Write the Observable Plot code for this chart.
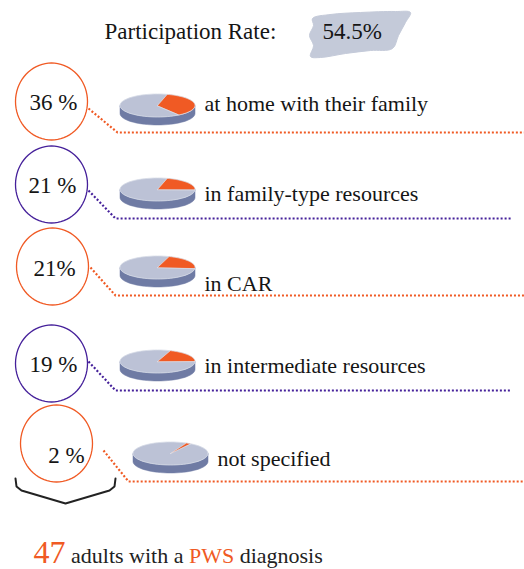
<!DOCTYPE html>
<html><head><meta charset="utf-8">
<script src="https://cdn.jsdelivr.net/npm/d3@7"></script>
<script src="https://cdn.jsdelivr.net/npm/@observablehq/plot@0.6"></script>
</head><body style="margin:0;background:#fff"><div id="chart"></div>
<script>
// ---- data ----
const participationLabel = "Participation Rate:";
const participationRate = "54.5%";
const percents = [36, 21, 21, 19, 2];
const percentLabels = ["36 %", "21 %", "21%", "19 %", "2 %"];
const places = ["at home with their family", "in family-type resources", "in CAR", "in intermediate resources", "not specified"];
const adultsCount = "47";
const footerParts = [" adults with a ", "PWS", " diagnosis"];

// ---- layout & style (not data) ----
const W = 524, H = 569;
const ORANGE = "#f05a24", PURPLE = "#45209a", PIE_TOP = "#bcc2d6", PIE_SIDE = "#6f7ba4", INK = "#151515";
const FONT = "Liberation Serif";
const rowColor = [ORANGE, PURPLE, ORANGE, PURPLE, ORANGE];
const ring = [ {cx:51, cy:101}, {cx:51, cy:184}, {cx:52, cy:266}, {cx:51, cy:363}, {cx:56, cy:443} ];
const ringR = {rx: 36, ry: 38.5};
const pctPos = [ {x:53, y:109}, {x:52, y:192}, {x:54, y:275}, {x:53, y:371}, {x:66, y:462} ];
const pie = [ {cx:157, cy:105, a0:15}, {cx:157, cy:189, a0:15}, {cx:157, cy:267, a0:18}, {cx:157, cy:361, a0:20}, {cx:170, cy:453, a0:25} ];
const pieR = {rx: 37.5, ry: 11.5, depth: 8};
const labelPos = [ {x:204, y:110}, {x:204, y:200}, {x:204, y:290}, {x:204, y:372}, {x:217, y:465} ];
const connector = [
  [[88,108],[117,132],[524,132]],
  [[88,190],[115,218],[512,218]],
  [[90,267],[115,295],[524,295]],
  [[88,361],[115,390],[510,390]],
  [[103,450],[128,481],[524,481]]
];

// ---- geometry helpers ----
function ellipsePts(cx, cy, rx, ry, id) {
  return d3.range(0, 73).map(k => { const t = k / 72 * 2 * Math.PI; return {id, x: cx + rx * Math.cos(t), y: cy + ry * Math.sin(t)}; });
}
function pp(cx, cy, deg, dy = 0) { const t = deg * Math.PI / 180; return [cx + pieR.rx * Math.sin(t), cy - pieR.ry * Math.cos(t) + dy]; }

const ringPts = ring.flatMap((c, i) => ellipsePts(c.cx, c.cy, ringR.rx, ringR.ry, i).map(p => ({...p, c: rowColor[i]})));
const sidePts = pie.flatMap((p, i) => {
  const top = d3.range(90, 271, 5).map(a => pp(p.cx, p.cy, a));
  const bot = d3.range(270, 89, -5).map(a => pp(p.cx, p.cy, a, pieR.depth));
  return [...top, ...bot].map(([x, y]) => ({id: i, x, y}));
});
const topPts = pie.flatMap((p, i) => ellipsePts(p.cx, p.cy, pieR.rx, pieR.ry, i));
const slicePts = pie.flatMap((p, i) => {
  const a1 = p.a0 + 360 * percents[i] / 100;
  const arc = d3.range(0, 41).map(k => pp(p.cx, p.cy, p.a0 + (a1 - p.a0) * k / 40));
  return [[p.cx, p.cy], ...arc].map(([x, y]) => ({id: i, x, y}));
});
const connPts = connector.flatMap((pts, i) => pts.map(([x, y]) => ({id: i, x, y, c: rowColor[i]})));

const ctx = document.createElement("canvas").getContext("2d");
function tw(s, size) { ctx.font = `${size}px "${FONT}"`; return ctx.measureText(s).width; }

const header = [{t: participationLabel, x: 104, y: 38}, {t: participationRate, x: 322, y: 38}];
const brushOffsets = [[-10,-20],[8,-24],[38,-26],[73,-27],[88,-26],[83,-16],[76,-3],[70,10],[48,12],[23,15],[-2,19],[-12,18],[-9,7],[-13,-3],[-9,-13]];
const brushPts = brushOffsets.map(([dx, dy]) => ({x: header[1].x + dx, y: header[1].y + dy}));

const footY = 562, footX = 33;
let fx = footX + tw(adultsCount, 32);
const footer = [{t: adultsCount, x: footX, c: ORANGE}];
footerParts.forEach((s, k) => { footer.push({t: s, x: fx, c: k === 1 ? ORANGE : "#222"}); fx += tw(s, 22); });

const brace = [[15,478],[16,486],[21,490],[65,503],[109,490],[114,486],[115,478]].map(([x, y]) => ({x, y}));

const rows = places.map((place, i) => ({place, pct: percentLabels[i], lx: labelPos[i].x, ly: labelPos[i].y, px: pctPos[i].x, py: pctPos[i].y}));

const chart = Plot.plot({
  width: W, height: H, margin: 0,
  x: {type: "identity", axis: null}, y: {type: "identity", axis: null},
  marks: [
    Plot.line(brushPts, {x: "x", y: "y", fill: "#c4cad9", stroke: "#c4cad9", strokeWidth: 1, curve: "catmull-rom-closed"}),
    Plot.text(header, {x: "x", y: "y", text: "t", textAnchor: "start", lineAnchor: "bottom", fontSize: 23, fontFamily: FONT, fill: INK}),
    Plot.line(ringPts.filter(d => d.c === ORANGE), {x: "x", y: "y", z: "id", stroke: ORANGE, strokeWidth: 1.3}),
    Plot.line(ringPts.filter(d => d.c === PURPLE), {x: "x", y: "y", z: "id", stroke: PURPLE, strokeWidth: 1.3}),
    Plot.line(connPts.filter(d => d.c === ORANGE), {x: "x", y: "y", z: "id", stroke: ORANGE, strokeWidth: 2.2, strokeDasharray: "2,2", strokeLinecap: "butt"}),
    Plot.line(connPts.filter(d => d.c === PURPLE), {x: "x", y: "y", z: "id", stroke: PURPLE, strokeWidth: 2.2, strokeDasharray: "2,2", strokeLinecap: "butt"}),
    Plot.line(sidePts, {x: "x", y: "y", z: "id", fill: PIE_SIDE, stroke: PIE_SIDE, strokeWidth: 0.5, curve: "linear-closed"}),
    Plot.line(topPts, {x: "x", y: "y", z: "id", fill: PIE_TOP, stroke: "#d6dae6", strokeWidth: 0.8, curve: "linear-closed"}),
    Plot.line(slicePts, {x: "x", y: "y", z: "id", fill: ORANGE, stroke: "#e9e9ef", strokeWidth: 0.6, curve: "linear-closed"}),
    Plot.text(rows, {x: "px", y: "py", text: "pct", textAnchor: "middle", lineAnchor: "bottom", fontSize: 23, fontFamily: FONT, fill: INK}),
    Plot.text(rows, {x: "lx", y: "ly", text: "place", textAnchor: "start", lineAnchor: "bottom", fontSize: 22, fontFamily: FONT, fill: INK}),
    Plot.line(brace, {x: "x", y: "y", stroke: "#222", strokeWidth: 2}),
    Plot.text(footer.slice(0, 1), {x: "x", y: () => footY, text: "t", textAnchor: "start", lineAnchor: "bottom", fontSize: 32, fontFamily: FONT, fill: ORANGE}),
    Plot.text(footer.slice(1).filter(d => d.c === ORANGE), {x: "x", y: () => footY, text: "t", textAnchor: "start", lineAnchor: "bottom", fontSize: 22, fontFamily: FONT, fill: ORANGE}),
    Plot.text(footer.slice(1).filter(d => d.c !== ORANGE), {x: "x", y: () => footY, text: "t", textAnchor: "start", lineAnchor: "bottom", fontSize: 22, fontFamily: FONT, fill: "#222"})
  ]
});
document.getElementById("chart").append(chart);
</script>
</body></html>
